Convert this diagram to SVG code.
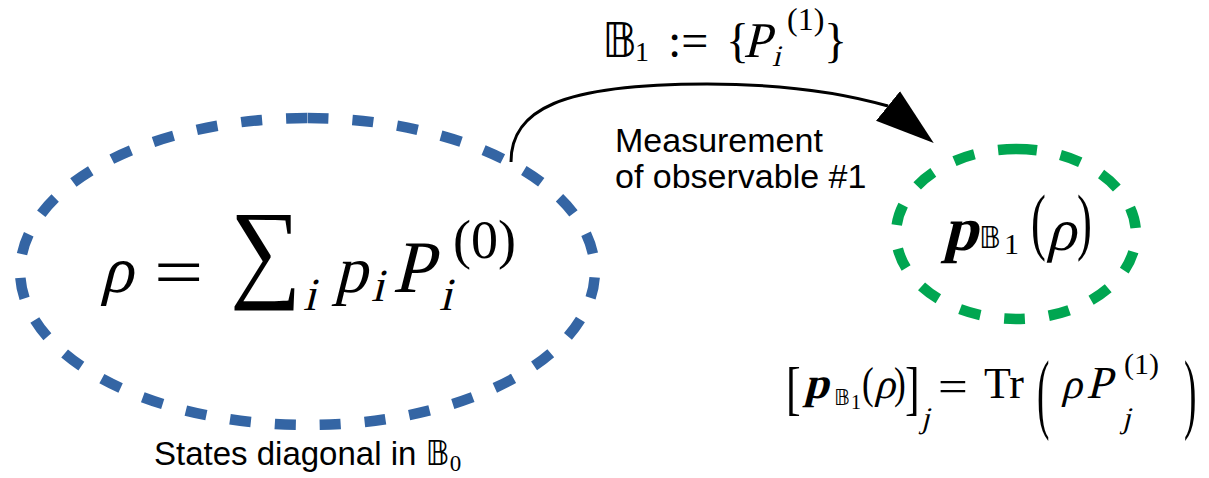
<svg xmlns="http://www.w3.org/2000/svg" width="1209" height="478" viewBox="0 0 1209 478">
<defs>
<style>
.blob{fill:none;stroke-width:10.5;stroke-dasharray:21 24;stroke-linecap:butt}
.lbl{font-family:"Liberation Sans",Arial,sans-serif;fill:#000}
.m{font-family:"Liberation Serif","Times New Roman",serif;fill:#000;font-style:normal}
.b{font-weight:bold}
.bb{font-family:"DejaVu Sans","DejaVu Serif",sans-serif;font-style:normal;font-weight:normal}
</style>
<marker id="ah" markerUnits="userSpaceOnUse" markerWidth="60" markerHeight="40" refX="0" refY="16.5" orient="39" viewBox="0 0 52 33">
<path d="M0,0 L51,16.5 L0,33 Z" fill="#000"/>
</marker>
</defs>
<rect width="1209" height="478" fill="#fff"/>

<g id="connectors">
<path id="measure-arrow" d="M511,162 C511,110 560,84 707,84 C790,84 850,95 888,106" fill="none" stroke="#000" stroke-width="3" marker-end="url(#ah)"/>
<text class="m" font-size="48" y="57"><tspan class="bb" x="602">𝔹</tspan><tspan x="635" y="61" font-size="28">1</tspan><tspan x="668" y="57">:=</tspan><tspan x="726">{</tspan><tspan x="787" y="30" font-size="32">(1)</tspan><tspan x="824" y="57">}</tspan></text>
<text class="m" font-size="50" transform="translate(743,57) skewX(-14)">P</text>
<text class="m" font-size="30" transform="translate(772,66) skewX(-14)">i</text>
<text class="lbl" font-size="34"><tspan x="615" y="152">Measurement</tspan><tspan x="615" y="188">of observable #1</tspan></text>
</g>

<g id="node-rho">
<path class="blob" stroke="#3465a4" d="M307.5,118 A287.5,153.5 0 0 1 307.5,425 A287.5,153.5 0 0 1 307.5,118 Z"/>
<text class="m" font-size="66" transform="translate(100,292) skewX(-14)">ρ</text>
<text class="m" font-size="70" transform="translate(154,296) scale(1.25,1)">=</text>
<text class="m" font-size="72" transform="translate(230,287) scale(1.39,1.53)">∑</text>
<text class="m" font-size="46" transform="translate(303,310) skewX(-14)">i</text>
<text class="m" font-size="66" transform="translate(334,292) skewX(-14)">p</text>
<text class="m" font-size="46" transform="translate(371,301) skewX(-14)">i</text>
<text class="m" font-size="74" transform="translate(392,292) skewX(-14)">P</text>
<text class="m" font-size="46" transform="translate(439,310) skewX(-14)">i</text>
<text class="m" font-size="54" x="453" y="258">(0)</text>
<text class="lbl" font-size="33" x="154" y="465">States diagonal in <tspan class="bb" font-size="33">𝔹</tspan><tspan class="m" font-size="23" y="471">0</tspan></text>
</g>

<g id="node-prob">
<path class="blob" stroke="#00a651" d="M1016,149 A120,85 0 0 1 1016,319 A120,85 0 0 1 1016,149 Z"/>
<text class="m b" font-size="62" transform="translate(943,250) skewX(-14)">p</text>
<text class="m bb" font-size="30" x="979" y="248">𝔹</text>
<text class="m" font-size="30" x="1004" y="254">1</text>
<text class="m" font-size="62" transform="translate(1031,246) scale(0.72,1.18)">(</text>
<text class="m" font-size="60" transform="translate(1046,250) skewX(-14)">ρ</text>
<text class="m" font-size="62" transform="translate(1077,246) scale(0.72,1.18)">)</text>
</g>

<g id="formula-prob-def">
<text class="m" font-size="44" transform="translate(786,408) scale(1,1.35)">[</text>
<text class="m b" font-size="44" transform="translate(804,398) skewX(-14)">p</text>
<text class="m bb" font-size="22" x="834" y="405">𝔹</text>
<text class="m" font-size="20" x="851" y="409">1</text>
<text class="m" font-size="44" transform="translate(862,398) scale(0.8,1)">(</text>
<text class="m" font-size="42" transform="translate(874,398) skewX(-14)">ρ</text>
<text class="m" font-size="44" transform="translate(894,398) scale(0.8,1)">)</text>
<text class="m" font-size="44" transform="translate(905,408) scale(1,1.35)">]</text>
<text class="m" font-size="30" transform="translate(921,428) skewX(-14)">j</text>
<text class="m" font-size="44" transform="translate(938,401) scale(1.2,1)">=</text>
<text class="m" font-size="44" x="984" y="398">Tr</text>
<text class="m" font-size="44" transform="translate(1037,422) scale(0.85,2)">(</text>
<text class="m" font-size="42" transform="translate(1061,398) skewX(-14)">ρ</text>
<text class="m" font-size="46" transform="translate(1086,398) skewX(-14)">P</text>
<text class="m" font-size="30" x="1124" y="374">(1)</text>
<text class="m" font-size="30" transform="translate(1122,428) skewX(-14)">j</text>
<text class="m" font-size="44" transform="translate(1184,422) scale(0.85,2)">)</text>
</g>
</svg>
